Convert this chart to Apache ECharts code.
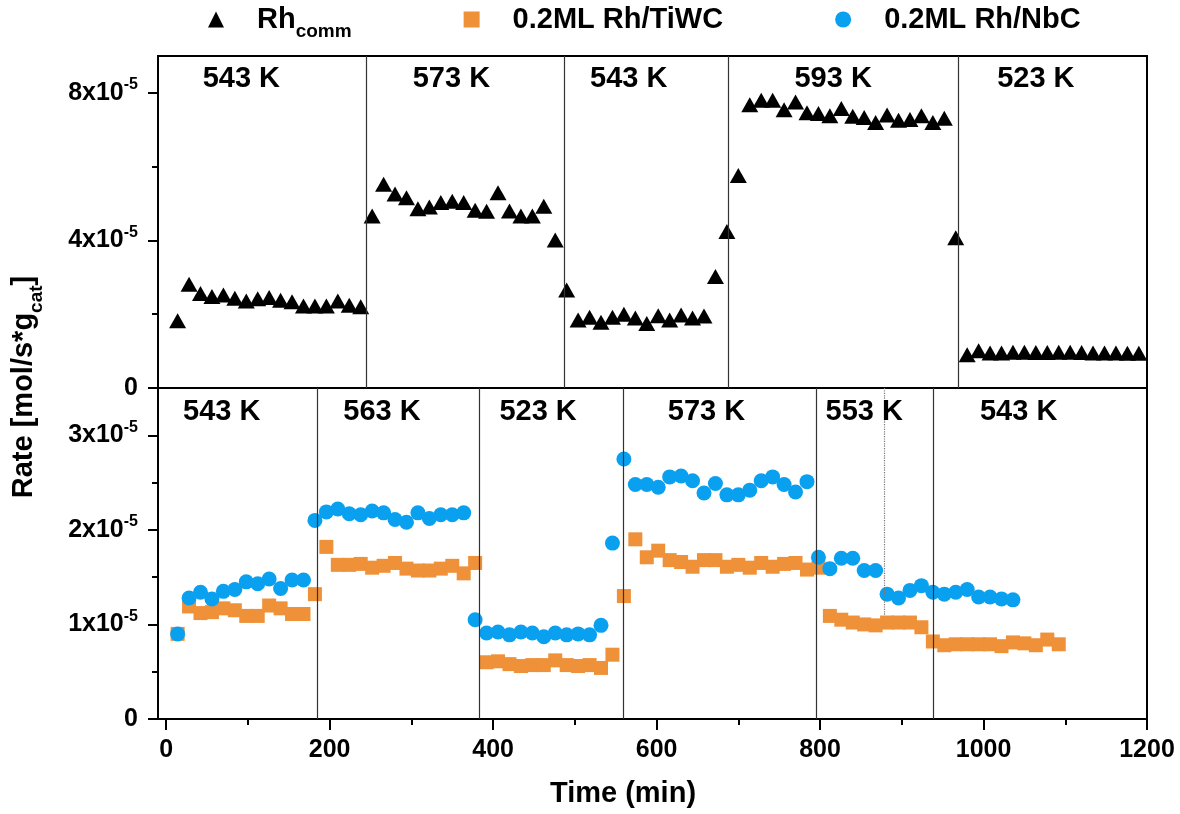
<!DOCTYPE html>
<html><head><meta charset="utf-8">
<script src="https://cdn.jsdelivr.net/npm/echarts@6/dist/echarts.min.js"></script>
<style>html,body{margin:0;padding:0;background:#fff}#c{width:1180px;height:814px}</style>
</head><body><div id="c"></div>
<script>
// sampling times (min)
const timeMin = [14,28,42,56,70,84,98,112,126,140,154,168,182,196,210,224,238,252,266,280,294,308,322,336,350,364,378,392,406,420,434,448,462,476,490,504,518,532,546,560,574,588,602,616,630,644,658,672,686,700,714,728,742,756,770,784,798,812,826,840,854,868,882,896,910,924,938,952,966,980,994,1008,1022,1036,1050,1064,1078,1092,1106,1120,1134,1148,1162,1176,1190];
// rates in units of 1e-5 mol/s*g_cat
const rateRhComm = [1.82,2.81,2.56,2.48,2.52,2.43,2.36,2.42,2.45,2.38,2.34,2.22,2.22,2.22,2.36,2.24,2.20,
  4.66,5.52,5.26,5.16,4.86,4.91,5.03,5.06,5.03,4.82,4.79,5.29,4.80,4.66,4.66,4.93,4.01,
  2.66,1.84,1.92,1.78,1.92,2.00,1.90,1.75,1.96,1.84,1.98,1.90,1.95,3.02,4.24,5.76,
  7.68,7.80,7.80,7.54,7.75,7.46,7.44,7.38,7.58,7.37,7.33,7.20,7.40,7.26,7.28,7.38,7.20,7.31,4.07,
  0.90,1.01,0.95,0.95,0.97,0.97,0.96,0.96,0.97,0.97,0.96,0.95,0.95,0.95,0.94,0.94];
const rateTiWC = [0.90,1.19,1.12,1.13,1.17,1.15,1.09,1.09,1.20,1.17,1.11,1.11,
  1.32,
  1.82,1.63,1.63,1.64,1.60,1.62,1.65,1.59,1.57,1.57,1.59,1.62,1.54,1.65,
  0.60,0.61,0.58,0.56,0.57,0.57,0.62,0.57,0.56,0.57,0.54,0.68,1.30,
  1.90,1.71,1.78,1.68,1.66,1.61,1.68,1.68,1.61,1.63,1.60,1.65,1.61,1.64,1.65,1.58,1.60,
  1.09,1.05,1.02,1.00,0.99,1.02,1.02,1.02,0.97,
  0.82,0.78,0.79,0.79,0.79,0.79,0.77,0.81,0.80,0.78,0.84,0.79];
const rateNbC = [0.90,1.28,1.34,1.27,1.35,1.37,1.45,1.43,1.48,1.38,1.47,1.47,
  2.10,2.19,2.22,2.17,2.16,2.20,2.18,2.11,2.08,2.18,2.12,2.16,2.16,2.18,
  1.05,0.91,0.92,0.89,0.92,0.91,0.87,0.91,0.89,0.90,0.89,0.99,1.86,2.75,
  2.48,2.48,2.45,2.56,2.57,2.52,2.39,2.49,2.37,2.37,2.42,2.52,2.56,2.48,2.40,2.51,
  1.71,1.59,1.70,1.70,1.57,1.57,
  1.32,1.28,1.36,1.41,1.34,1.32,1.34,1.37,1.29,1.29,1.27,1.26];
const seriesNames = ['Rh_comm', '0.2ML Rh/TiWC', '0.2ML Rh/NbC'];
// temperature step changes (min)
const topSteps = [245, 487, 688, 969];
const bottomSteps = [185, 383, 559, 795, 938];
const bottomDottedAt = 879;
const bottomDottedTo = 1.1;
// temperature annotations
const topTempText = ['543 K','573 K','543 K','593 K','523 K'];
const topTempTime = [92, 349, 566, 816, 1064];
const topTempRate = 8.38;
const bottomTempText = ['543 K','563 K','523 K','573 K','553 K','543 K'];
const bottomTempTime = [68, 264, 455, 661, 854, 1043];
const bottomTempRate = 3.25;
// ticks
const xMajor = [0,200,400,600,800,1000,1200];
const xMinor = [100,300,500,700,900,1100];
const yTopMajor = [0,4,8];
const yTopMinor = [2,6];
const yBotMajor = [0,1,2,3];
const yBotMinor = [0.5,1.5,2.5];

const FONT = "'Liberation Sans', Arial, Helvetica, sans-serif";
const chart = echarts.init(document.getElementById('c'), null, {renderer:'canvas'});
const bold = (size, extra) => Object.assign({fontSize:size, fontWeight:'bold', fontFamily:FONT, color:'#000', fill:'#000'}, extra||{});
const yRich = { m: bold(25, {lineHeight:32}), e: bold(16, {lineHeight:18, verticalAlign:'top'}) };
const yFmt = v => v === 0 ? '0' : '{m|' + v + 'x10}{e|-5}';
const GRID_L = 158, GRID_R = 33;

function mainY(grid, max, ticks){
  return {gridIndex:grid, type:'value', min:0, max:max, position:'left',
    axisLine:{show:true, onZero:false, lineStyle:{color:'#000', width:2}},
    axisTick:{show:true, customValues:ticks, length:10, lineStyle:{color:'#000', width:2}},
    axisLabel:{show:true, customValues:ticks, formatter:yFmt, rich:yRich, margin:20, fontSize:25, fontWeight:'bold', fontFamily:FONT, color:'#000'},
    splitLine:{show:false}};
}
function minorY(grid, max, ticks){
  return {gridIndex:grid, type:'value', min:0, max:max, position:'left',
    axisLine:{show:false, onZero:false}, axisTick:{show:true, customValues:ticks, length:6, lineStyle:{color:'#000', width:2}},
    axisLabel:{show:false}, splitLine:{show:false}};
}
const lineStyleSep = {color:'#333', width:1.2, type:'solid'};
const tempLabel = {show:true, position:'inside', formatter:'{b}', fontSize:29, fontWeight:'bold', fontFamily:FONT, color:'#000', opacity:1};

const option = {
  animation:false,
  backgroundColor:'#fff',
  grid:[
    {left:GRID_L, right:GRID_R, top:56, height:332, show:true, borderColor:'#000', borderWidth:2, backgroundColor:'transparent'},
    {left:GRID_L, right:GRID_R, top:388, height:331, show:true, borderColor:'#000', borderWidth:2, backgroundColor:'transparent'}
  ],
  legend:{
    left:208, top:5, padding:0, itemGap:112, itemWidth:16, itemHeight:16,
    data:seriesNames,
    formatter: n => n === 'Rh_comm' ? '{a|Rh}{s|comm}' : '{b|' + n + '}',
    textStyle:{padding:[0,0,0,28], rich:{
      a: bold(29, {lineHeight:44}),
      b: bold(29, {lineHeight:44}),
      s: bold(19, {lineHeight:20, verticalAlign:'bottom'})
    }}
  },
  xAxis:[
    {gridIndex:0, type:'value', min:-10, max:1200, axisLine:{show:false}, axisTick:{show:false}, axisLabel:{show:false}, splitLine:{show:false}},
    {gridIndex:1, type:'value', min:-10, max:1200, position:'bottom',
      axisLine:{show:true, onZero:false, lineStyle:{color:'#000', width:2}},
      axisTick:{show:true, customValues:xMajor, length:11, lineStyle:{color:'#000', width:2}},
      axisLabel:{show:true, customValues:xMajor, formatter: v => String(v), margin:19, fontSize:25, fontWeight:'bold', fontFamily:FONT, color:'#000'},
      splitLine:{show:false}},
    {gridIndex:1, type:'value', min:-10, max:1200, position:'bottom',
      axisLine:{show:false, onZero:false}, axisTick:{show:true, customValues:xMinor, length:6, lineStyle:{color:'#000', width:2}},
      axisLabel:{show:false}, splitLine:{show:false}}
  ],
  yAxis:[ mainY(0, 9, yTopMajor), minorY(0, 9, yTopMinor), mainY(1, 3.5, yBotMajor), minorY(1, 3.5, yBotMinor) ],
  series:[
    {name:seriesNames[0], type:'scatter', xAxisIndex:0, yAxisIndex:0, symbol:'triangle', symbolSize:[17,15],
      itemStyle:{color:'#000', opacity:1}, data: rateRhComm.map((v,i)=>[timeMin[i], v]),
      markLine:{silent:true, symbol:['none','none'], label:{show:false}, lineStyle:lineStyleSep,
        data: topSteps.map(t=>({xAxis:t}))}, z:3},
    {name:seriesNames[1], type:'scatter', xAxisIndex:1, yAxisIndex:2, symbol:'rect', symbolSize:14,
      itemStyle:{color:'#EF9139', opacity:1}, data: rateTiWC.map((v,i)=>[timeMin[i], v]),
      markLine:{silent:true, symbol:['none','none'], label:{show:false}, lineStyle:lineStyleSep,
        data: bottomSteps.map(t=>({xAxis:t})).concat([[
          {coord:[bottomDottedAt, 3.5], lineStyle:{type:'dotted', color:'#777', width:1.2}},
          {coord:[bottomDottedAt, bottomDottedTo]}]])}, z:3},
    {name:seriesNames[2], type:'scatter', xAxisIndex:1, yAxisIndex:2, symbol:'circle', symbolSize:15,
      itemStyle:{color:'#0AA0F0', opacity:1}, data: rateNbC.map((v,i)=>[timeMin[i], v]), z:4},
    {name:'tempTop', type:'scatter', xAxisIndex:0, yAxisIndex:0, symbolSize:1, itemStyle:{color:'rgba(0,0,0,0)', opacity:1}, silent:true,
      label:tempLabel,
      data: topTempText.map((t,i)=>({name:t, value:[topTempTime[i], topTempRate]})), z:5},
    {name:'tempBottom', type:'scatter', xAxisIndex:1, yAxisIndex:2, symbolSize:1, itemStyle:{color:'rgba(0,0,0,0)', opacity:1}, silent:true,
      label:tempLabel,
      data: bottomTempText.map((t,i)=>({name:t, value:[bottomTempTime[i], bottomTempRate]})), z:5}
  ],
  graphic:[
    {type:'text', x:24, y:387, rotation:Math.PI/2, style:{
      text:'{a|Rate [mol/s*g}{s|cat}{a|]}', align:'center', verticalAlign:'middle',
      rich:{a: bold(29, {lineHeight:44}), s: bold(19, {lineHeight:20, verticalAlign:'bottom'})}}},
    {type:'text', x:623, y:794, style:{text:'Time (min)', align:'center', verticalAlign:'middle',
      font:"bold 29px 'Liberation Sans', Arial, sans-serif", fill:'#000'}}
  ]
};
chart.setOption(option);
</script></body></html>
